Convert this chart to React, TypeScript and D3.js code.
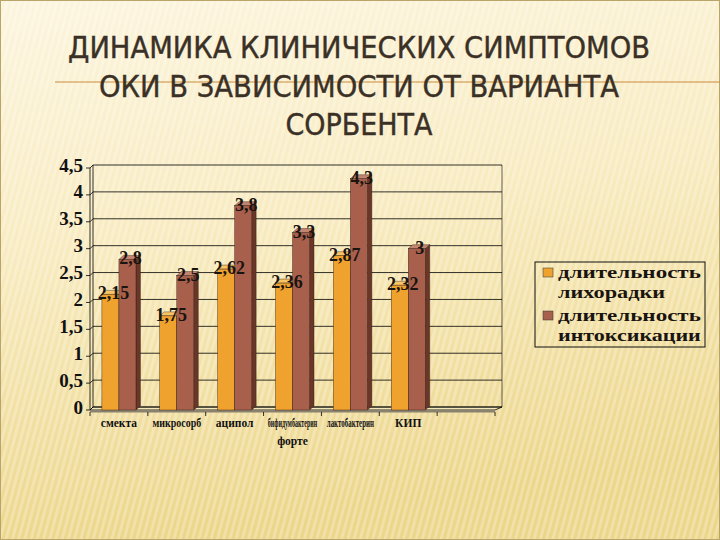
import React from 'react'
import * as d3 from 'd3'

// chart data
const categories = ['смекта', 'микросорб', 'аципол', 'бифидумбактерин форте', 'лактобактерин', 'КИП', '']
const feverDays = [2.15, 1.75, 2.62, 2.36, 2.87, 2.32, null]
const intoxDays = [2.8, 2.5, 3.8, 3.3, 4.3, 3, null]
const seriesNames = ['длительность лихорадки', 'длительность интоксикации']
const yTicks = [0, 0.5, 1, 1.5, 2, 2.5, 3, 3.5, 4, 4.5]
const titleLines = ['ДИНАМИКА КЛИНИЧЕСКИХ СИМПТОМОВ', 'ОКИ В ЗАВИСИМОСТИ ОТ ВАРИАНТА', 'СОРБЕНТА']

const W = 720
const H = 540
const colors = ['#F0A22E', '#A8604C']
const sideColors = ['#B87414', '#6A3628']
const topColors = ['#F8C468', '#C48472']

const fmt = (v: number) => String(v).replace('.', ',')

function App() {
  // back wall of the 3D plot
  const wallLeft = 93
  const wallRight = 502
  const dx = 3
  const dy = 3

  const x = d3.scaleBand<string>()
    .domain(categories.map((c, i) => i + ''))
    .range([wallLeft - dx, wallRight - dx - 4])
  const inner = d3.scaleBand<string>()
    .domain(['0', '1'])
    .range([0, x.bandwidth()])
    .paddingOuter(0.7)
    .paddingInner(0)
  const y = d3.scaleLinear().domain([0, 4.5]).range([407, 165])

  const bars: any[] = []
  categories.forEach((c, i) => {
    ;[feverDays[i], intoxDays[i]].forEach((v, s) => {
      if (v == null) return
      bars.push({ i, s, v, x0: (x(i + '') as number) + (inner(s + '') as number), w: inner.bandwidth() })
    })
  })

  const serif = 'Liberation Serif, Times New Roman, serif'

  return (
    <svg width={W} height={H} style={{ position: 'absolute', left: 0, top: 0 }}>
      <defs>
        <linearGradient id="bg" x1="0" y1="0" x2="0.2" y2="1">
          <stop offset="0" stopColor="#FCF5DE" />
          <stop offset="0.45" stopColor="#F8EBC0" />
          <stop offset="1" stopColor="#ECD68A" />
        </linearGradient>
        <pattern id="stripes" width="6" height="6" patternUnits="userSpaceOnUse" patternTransform="rotate(15)">
          <rect width="3" height="6" fill="#ffffff" opacity="0.25" />
        </pattern>
      </defs>
      <rect width={W} height={H} fill="url(#bg)" />
      <rect width={W} height={H} fill="url(#stripes)" />
      <rect x={0.5} y={0.5} width={W - 1} height={H - 1} fill="none" stroke="#B9A46A" />

      {/* title */}
      <line x1={55} x2={720} y1={82} y2={82} stroke="#C98C3E" strokeWidth={1} />
      {titleLines.map((t, i) => (
        <text key={i} x={359} y={58 + i * 38.5} textAnchor="middle"
          fontFamily="Liberation Sans Narrow, DejaVu Sans Condensed, Arial Narrow, sans-serif"
          fontSize={30} fill="#3A3026" stroke="#3A3026" strokeWidth={0.4}
          textLength={[582, 520, 147][i]} lengthAdjust="spacingAndGlyphs">{t}</text>
      ))}

      {/* left side wall + floor */}
      <line x1={wallLeft} x2={wallLeft} y1={y(4.5)} y2={y(0)} stroke="#000" strokeWidth={0.8} />
      <line x1={wallLeft - dx} x2={wallLeft - dx} y1={y(4.5) + dy} y2={y(0) + dy} stroke="#000" strokeWidth={0.8} />
      <line x1={wallRight} x2={wallRight} y1={y(4.5)} y2={y(0)} stroke="#000" strokeWidth={0.6} />
      <path d={`M${wallLeft - dx},${y(0) + dy} L${wallLeft},${y(0)} L${wallRight},${y(0)} L${wallRight - dx - 4},${y(0) + dy} Z`}
        fill="#F3E6B8" stroke="#000" strokeWidth={0.8} />
      <rect x={wallLeft - dx} y={y(0) + dy} width={wallRight - wallLeft - 4} height={2.5} fill="#8A826E" />

      {/* gridlines */}
      {yTicks.map(t => (
        <g key={t}>
          <line x1={wallLeft} x2={wallRight} y1={y(t)} y2={y(t)} stroke="#000" strokeWidth={0.8} />
          <line x1={wallLeft - dx} x2={wallLeft} y1={y(t) + dy} y2={y(t)} stroke="#000" strokeWidth={0.8} />
          <line x1={wallLeft - dx - 4} x2={wallLeft - dx} y1={y(t) + dy} y2={y(t) + dy} stroke="#000" strokeWidth={0.8} />
          <text x={83} y={y(t) + 6.5} textAnchor="end" fontFamily={serif} fontWeight="bold" fontSize={19} fill="#111">{fmt(t)}</text>
        </g>
      ))}

      {/* category ticks */}
      {categories.map((c, i) => (
        <line key={i} x1={x(i + '') as number} x2={x(i + '') as number} y1={y(0) + dy + 2} y2={y(0) + dy + 6} stroke="#000" strokeWidth={0.8} />
      ))}
      <line x1={x.range()[1]} x2={x.range()[1]} y1={y(0) + dy + 2} y2={y(0) + dy + 6} stroke="#000" strokeWidth={0.8} />

      {/* bars: brown drawn after orange so its face covers the orange side */}
      {bars.map((b, k) => {
        const top = y(b.v) + dy
        const bottom = y(0) + dy
        return (
          <g key={k}>
            <path d={`M${b.x0 + b.w},${top} L${b.x0 + b.w + 4.5},${top - 4} L${b.x0 + b.w + 4.5},${bottom - 4} L${b.x0 + b.w},${bottom} Z`}
              fill={sideColors[b.s]} stroke="#2a1a10" strokeWidth={0.4} />
            <path d={`M${b.x0},${top} L${b.x0 + 4.5},${top - 4} L${b.x0 + b.w + 4.5},${top - 4} L${b.x0 + b.w},${top} Z`}
              fill={topColors[b.s]} stroke="#2a1a10" strokeWidth={0.4} />
            <rect x={b.x0} y={top} width={b.w} height={bottom - top} fill={colors[b.s]} stroke="#2a1a10" strokeWidth={0.4} />
          </g>
        )
      })}

      {/* value labels */}
      {bars.map((b, k) => (
        <text key={k} x={b.x0 + b.w / 2 + 3} y={y(b.v) + 8} textAnchor="middle"
          fontFamily={serif} fontWeight="bold" fontSize={18} fill="#1a1410">{fmt(b.v)}</text>
      ))}

      {/* category labels, long names squeezed into their slot */}
      {categories.map((c, i) => {
        const cx = (x(i + '') as number) + x.bandwidth() / 2
        const parts = c.split(' ')
        return (
          <g key={i}>
            {parts.map((p, j) => {
              const est = p.length * 6.4
              const sx = est > 50 ? 50 / est : 1
              return (
                <text key={j} transform={`translate(${cx},${427 + j * 18}) scale(${sx},1)`} textAnchor="middle"
                  fontFamily={serif} fontWeight="bold" fontSize={11.5} fill="#111">{p}</text>
              )
            })}
          </g>
        )
      })}

      {/* legend */}
      <rect x={535} y={262} width={170} height={85} fill="none" stroke="#111" strokeWidth={1} />
      {seriesNames.map((n, s) => {
        const words = n.split(' ')
        const y0 = 278 + s * 43
        return (
          <g key={s}>
            <rect x={543} y={y0 - 10} width={10} height={9} fill={colors[s]} stroke="#333" strokeWidth={0.5} />
            {words.map((w, j) => (
              <text key={j} x={558} y={y0 + j * 20} fontFamily={serif} fontWeight="bold" fontSize={16} fill="#1a1410"
                textLength={w.length * 11.9} lengthAdjust="spacingAndGlyphs">{w}</text>
            ))}
          </g>
        )
      })}
    </svg>
  )
}

export default App
